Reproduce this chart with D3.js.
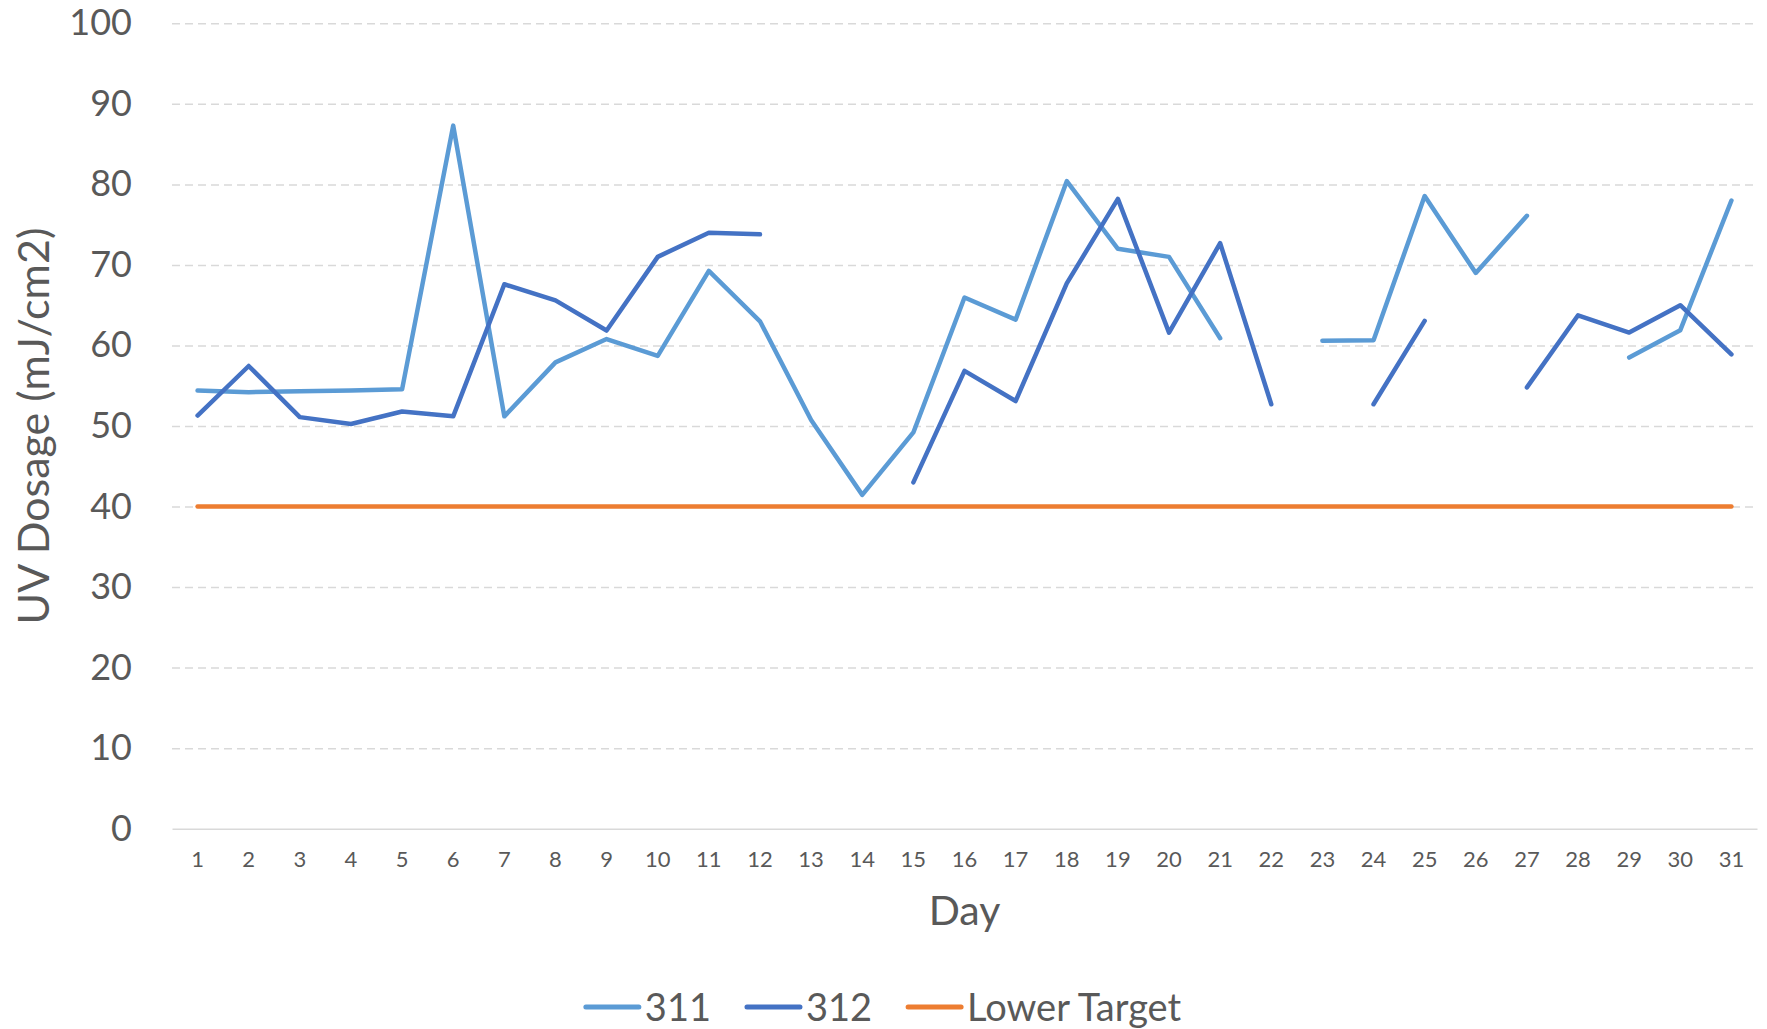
<!DOCTYPE html>
<html><head><meta charset="utf-8">
<script src="https://cdn.jsdelivr.net/npm/d3@7"></script>
<style>body{margin:0;background:#fff}svg{display:block}</style>
</head><body>
<svg id="chart" width="1767" height="1029"></svg>
<script>
const days = ["1","2","3","4","5","6","7","8","9","10","11","12","13","14","15","16","17","18","19","20","21","22","23","24","25","26","27","28","29","30","31"];
const s311 = [54.4,54.2,54.3,54.4,54.55,87.3,51.2,57.9,60.8,58.7,69.25,63.0,50.75,41.45,49.2,65.95,63.2,80.4,72.0,71.0,60.9,null,60.6,60.65,78.55,69.0,76.1,null,58.5,61.9,78.0];
const s312 = [51.3,57.45,51.1,50.25,51.8,51.2,67.6,65.6,61.85,71.0,74.0,73.8,null,null,43.0,56.85,53.1,67.7,78.2,61.6,72.7,52.7,null,52.7,63.05,null,54.8,63.75,61.6,65.0,58.9];
const lowerTarget = [40,40,40,40,40,40,40,40,40,40,40,40,40,40,40,40,40,40,40,40,40,40,40,40,40,40,40,40,40,40,40];
const yTicks = [0,10,20,30,40,50,60,70,80,90,100];
const seriesNames = ["311","312","Lower Target"];
const seriesColors = ["#5B9BD5","#4472C4","#ED7D31"];
const xTitle = "Day";
const yTitle = "UV Dosage (mJ/cm2)";

const FONT = "Lato, 'Open Sans', sans-serif";
const TXT = "#595959";
const svg = d3.select("#chart");
const L = 172, R = 1757, T = 23.3, B = 828.7;

const x = d3.scaleBand().domain(days).range([L, R]);
const cx = d => x(d) + x.bandwidth() / 2;
const y = d3.scaleLinear().domain([0, 100]).range([B, T]);

// gridlines
const grid = svg.append("g").attr("transform", `translate(${L},0)`)
  .call(d3.axisLeft(y).tickValues(yTicks.filter(v => v !== 0)).tickSize(-(R - L)).tickFormat(""));
grid.select(".domain").remove();
grid.selectAll("line").attr("stroke", "#d9d9d9").attr("stroke-width", 1.5).attr("stroke-dasharray", "8,5");

// y axis labels
const ya = svg.append("g").attr("transform", `translate(${L},0)`)
  .call(d3.axisLeft(y).tickValues(yTicks).tickSize(0).tickPadding(40));
ya.select(".domain").remove();
ya.selectAll("text").attr("font-family", FONT).attr("font-size", 36).attr("fill", TXT);

// x axis
const xa = svg.append("g").attr("transform", `translate(0,${B})`)
  .call(d3.axisBottom(x).tickSize(0).tickPadding(23));
xa.select(".domain").attr("stroke", "#d9d9d9").attr("stroke-width", 1.5);
xa.selectAll("text").attr("font-family", FONT).attr("font-size", 22).attr("fill", TXT);

// titles
svg.append("text").attr("x", (L + R) / 2).attr("y", 925).attr("text-anchor", "middle")
  .attr("font-family", FONT).attr("font-size", 41).attr("fill", TXT).text(xTitle);
svg.append("text").attr("transform", `translate(49,${(T + B) / 2}) rotate(-90)`).attr("text-anchor", "middle")
  .attr("font-family", FONT).attr("font-size", 43).attr("fill", TXT).text(yTitle);

// lines
const line = d3.line().defined(d => d.v !== null).x(d => cx(d.day)).y(d => y(d.v));
[s311, s312, lowerTarget].forEach((arr, i) => {
  const data = days.map((d, j) => ({day: d, v: arr[j]}));
  svg.append("path").datum(data).attr("d", line).attr("fill", "none")
    .attr("stroke", seriesColors[i]).attr("stroke-width", 4.5)
    .attr("stroke-linecap", "round").attr("stroke-linejoin", "round");
});

// legend
const leg = svg.append("g");
let lx = 0;
const ly = 1007;
seriesNames.forEach((n, i) => {
  const g = leg.append("g").attr("transform", `translate(${lx},0)`);
  g.append("line").attr("x1", 0).attr("x2", 53).attr("y1", ly).attr("y2", ly)
    .attr("stroke", seriesColors[i]).attr("stroke-width", 5).attr("stroke-linecap", "round");
  const t = g.append("text").attr("x", 59).attr("y", ly).attr("dy", "0.36em")
    .attr("font-family", FONT).attr("font-size", 38).attr("fill", TXT).text(n);
  lx += 59 + t.node().getComputedTextLength() + 36;
});
const lw = lx - 36;
leg.attr("transform", `translate(${1767 / 2 - lw / 2},0)`);
</script>
</body></html>
